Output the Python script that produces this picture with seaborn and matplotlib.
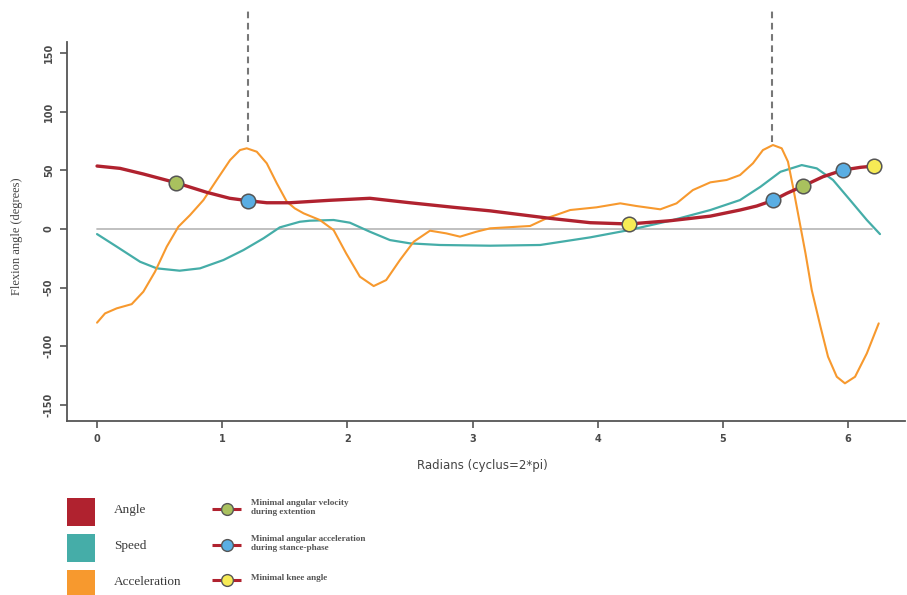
import matplotlib
matplotlib.use("Agg")
import matplotlib.pyplot as plt
import seaborn as sns
from matplotlib.patches import Rectangle

# ---------------- data ----------------
angle_x = [0, 0.184, 0.37, 0.63, 0.876, 1.06, 1.21, 1.356, 1.54, 1.86, 2.18,
           2.5, 2.85, 3.14, 3.62, 3.94, 4.25, 4.58, 4.9, 5.137, 5.27, 5.40,
           5.51, 5.64, 5.80, 5.96, 6.1, 6.21]
angle_y = [53.7, 51.7, 46.9, 39.5, 31.3, 26.2, 24.1, 22.4, 22.4, 24.5, 26.2,
           22.4, 18.5, 15.5, 9.1, 5.4, 4.3, 7.1, 11, 16.2, 19.6, 24.4,
           30.4, 36.6, 44.6, 50.3, 52.6, 53.7]

speed_x = [0, 0.157, 0.344, 0.477, 0.66, 0.823, 1.01, 1.17, 1.33, 1.46, 1.62,
           1.70, 1.89, 2.02, 2.18, 2.34, 2.5, 2.74, 3.14, 3.54, 3.94, 4.25,
           4.58, 4.9, 5.137, 5.3, 5.46, 5.63, 5.75, 5.88, 6.016, 6.15, 6.255]
speed_y = [-4.3, -15, -27.9, -33.5, -35.5, -33.5, -26.4, -17.9, -7.9, 1.4, 6.2,
           7.1, 7.7, 5.4, -2.3, -9.4, -12.2, -13.6, -14.2, -13.6, -7.1, -0.9,
           7.1, 16.2, 24.7, 36, 48.8, 54.5, 51.7, 41.8, 24.7, 7.7, -4.3]

accel_x = [0, 0.064, 0.157, 0.277, 0.37, 0.463, 0.557, 0.65, 0.743, 0.85,
           0.956, 1.063, 1.142, 1.196, 1.276, 1.356, 1.436, 1.516, 1.58, 1.65,
           1.78, 1.89, 1.99, 2.1, 2.21, 2.31, 2.42, 2.53, 2.66, 2.79, 2.9,
           3.03, 3.14, 3.46, 3.59, 3.78, 3.99, 4.18, 4.31, 4.5, 4.63, 4.76,
           4.9, 5.03, 5.137, 5.24, 5.32, 5.40, 5.47, 5.52, 5.56, 5.6, 5.66,
           5.71, 5.78, 5.84, 5.91, 5.975, 6.056, 6.15, 6.245]
accel_y = [-79.8, -71.9, -67.6, -64, -53.4, -36.4, -15, 2, 11.9, 24.7,
           41.8, 58.8, 67.3, 68.8, 65.9, 56, 39, 23.3, 17.6, 13.4,
           7.7, -0.9, -20.7, -40.6, -48.6, -43.5, -26.4, -10.8, -1.4, -3.7, -6.5,
           -2.3, 0.6, 2.6, 9.1, 16.2, 18.5, 21.9, 19.6, 16.8, 21.9, 33.2,
           39.8, 41.8, 46, 56, 67.3, 71.6, 68.8, 57.4, 36, 13.4, -20.7,
           -52, -83.3, -108.8, -125.9, -131.5, -125.9, -106, -80.4]

vel_min_x = [0.63, 5.64]          # Minimal angular velocity during extention
vel_min_y = [39.5, 36.6]
acc_min_x = [1.21, 5.40, 5.96]    # Minimal angular acceleration during stance-phase
acc_min_y = [24.1, 24.4, 50.3]
knee_min_x = [4.25, 6.21]         # Minimal knee angle
knee_min_y = [4.3, 53.7]

zero_x = [0, 6.19]
zero_y = [0, 0]
dash_x = [1.21, 5.395]
dash_y = [74, 188]

x_ticks = [0, 1, 2, 3, 4, 5, 6]
y_ticks = [-150, -100, -50, 0, 50, 100, 150]

series_names = ["Angle", "Speed", "Acceleration"]
marker_names = ["Minimal angular velocity\nduring extention",
                "Minimal angular acceleration\nduring stance-phase",
                "Minimal knee angle"]

# ---------------- style ----------------
RED = "#B0222F"
TEAL = "#45ADA8"
ORANGE = "#F7992E"
GREEN = "#A9C15E"
BLUE = "#5AAEE3"
YELLOW = "#F6EB55"
EDGE = "#555555"
AXC = "#555555"
SERIF = ["Liberation Serif", "DejaVu Serif"]

sns.set_theme(style="ticks")
plt.rcParams["font.family"] = ["Liberation Sans Narrow", "DejaVu Sans"]
plt.rcParams["lines.solid_joinstyle"] = "round"

fig = plt.figure(figsize=(9.07, 5.95), dpi=100)
W, H = 907, 595
ax = fig.add_axes([67 / W, 1 - 421 / H, (905 - 67) / W, (421 - 42) / H])

# zero line
sns.lineplot(x=zero_x, y=zero_y, ax=ax, color="#BBBBBB", lw=1.3, zorder=1)

sns.lineplot(x=speed_x, y=speed_y, ax=ax, color=TEAL, lw=1.6, estimator=None, zorder=2)
sns.lineplot(x=accel_x, y=accel_y, ax=ax, color=ORANGE, lw=1.5, estimator=None, zorder=3)
sns.lineplot(x=angle_x, y=angle_y, ax=ax, color=RED, lw=2.4, estimator=None, zorder=4)

for xs, ys, c in [(vel_min_x, vel_min_y, GREEN), (acc_min_x, acc_min_y, BLUE),
                  (knee_min_x, knee_min_y, YELLOW)]:
    sns.scatterplot(x=xs, y=ys, ax=ax, color=c, s=110, edgecolor=EDGE,
                    linewidth=1.1, zorder=5)

for dx in dash_x:
    ax.plot([dx, dx], dash_y, color="#777777", lw=1.5, ls=(0, (3.2, 2.2)),
            clip_on=False, zorder=1)

ax.set_xlim(-0.24, 6.455)
ax.set_ylim(-163.6, 159.4)
ax.set_xticks(x_ticks)
ax.set_yticks(y_ticks)
ax.set_xticklabels([str(t) for t in x_ticks])
ax.set_yticklabels([str(t) for t in y_ticks])
ax.set_xlabel("")
ax.set_ylabel("")
sns.despine(ax=ax)
for s in ["left", "bottom"]:
    ax.spines[s].set_color(AXC)
    ax.spines[s].set_linewidth(1.3)
ax.tick_params(axis="both", direction="out", length=5, width=1.2, color=AXC,
               labelcolor="#4a4a4a", labelsize=7)
ax.tick_params(axis="y", pad=4.5)
ax.tick_params(axis="x", pad=4)
plt.setp(ax.get_yticklabels(), rotation=90, va="center", fontweight="bold")
plt.setp(ax.get_xticklabels(), fontweight="bold")

fig.text(482 / W, 1 - 465 / H, "Radians (cyclus=2*pi)", ha="center", va="center",
         fontsize=8.5, color="#444444")
fig.text(17 / W, 1 - 236 / H, "Flexion angle (degrees)", ha="center", va="center",
         rotation=90, fontsize=9, color="#444444", family=SERIF)

# ---------------- legend (pixel coordinates) ----------------
lg = fig.add_axes([0, 0, 1, 1], zorder=10)
lg.set_xlim(0, W)
lg.set_ylim(H, 0)
lg.axis("off")
lg.patch.set_alpha(0)

sq_y = [498, 534, 570]
for yy, c, name in zip(sq_y, [RED, TEAL, ORANGE], series_names):
    lg.add_patch(Rectangle((67, yy), 28, 28, facecolor=c, edgecolor="none"))
    lg.text(114, yy + 12, name, ha="left", va="center", fontsize=9.5,
            color="#3a3a3a", family=SERIF)

mk_y = [509, 545, 580]
for yy, c, name in zip(mk_y, [GREEN, BLUE, YELLOW], marker_names):
    lg.plot([212, 241], [yy, yy], color=RED, lw=2.2, solid_capstyle="butt")
    lg.plot([226.5], [yy], marker="o", ms=8.5, mfc=c, mec=EDGE, mew=1.0)
    lg.text(251, yy - 1.5, name, ha="left", va="center", fontsize=6.6,
            color="#555555", fontweight="bold", linespacing=1.25,
            family=SERIF)

fig.savefig("out.png", dpi=100)
